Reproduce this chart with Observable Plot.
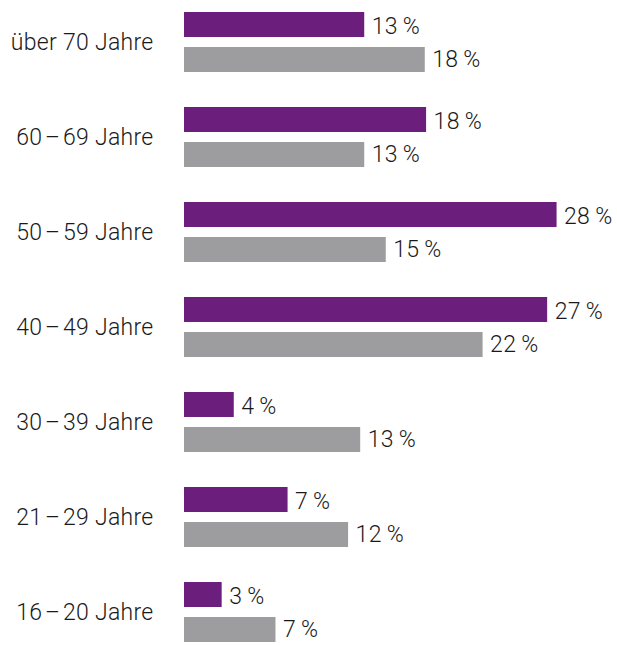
<!DOCTYPE html>
<html>
<head>
<meta charset="utf-8">
<script src="https://cdn.jsdelivr.net/npm/d3@7"></script>
<script src="https://cdn.jsdelivr.net/npm/@observablehq/plot@0.6"></script>
<style>
  html, body { margin: 0; padding: 0; background: #fff; }
  #chart svg text { letter-spacing: 0.3px; }
</style>
</head>
<body>
<div id="chart"></div>
<script>
const groups = ["über 70 Jahre", "60\u200a–\u200a69 Jahre", "50\u200a–\u200a59 Jahre", "40\u200a–\u200a49 Jahre", "30\u200a–\u200a39 Jahre", "21\u200a–\u200a29 Jahre", "16\u200a–\u200a20 Jahre"];
const purpleValues = [13.4, 18.0, 27.7, 27.0, 3.7, 7.7, 2.8];
const grayValues = [17.9, 13.4, 15.0, 22.2, 13.1, 12.2, 6.8];
const purpleLabels = [13, 18, 28, 27, 4, 7, 3];
const grayLabels = [18, 13, 15, 22, 13, 12, 7];

const purple = groups.map((g, i) => ({group: g, value: purpleValues[i], label: purpleLabels[i]}));
const gray = groups.map((g, i) => ({group: g, value: grayValues[i], label: grayLabels[i]}));

const fmt = d => d.label + "\u2009%";

const chart = Plot.plot({
  width: 617,
  height: 645,
  marginLeft: 184,
  marginRight: 0,
  marginTop: 0,
  marginBottom: 0,
  style: {fontFamily: "Roboto, 'Liberation Sans', Arial, sans-serif", fontSize: "23px", fontWeight: 300, color: "#1a1a1a", background: "#fff"},
  x: {domain: [0, 30], range: [184, 587.5], axis: null},
  y: {domain: groups, range: [9, 645.5], paddingInner: 0.369, paddingOuter: 0, label: null},
  marks: [
    Plot.barX(purple, {x: "value", y: "group", fill: "#6b1e7c", insetBottom: 35}),
    Plot.barX(gray, {x: "value", y: "group", fill: "#9d9d9f", insetTop: 35}),
    Plot.text(purple, {x: "value", y: "group", text: fmt, textAnchor: "start", dx: 7, dy: -16, fontSize: 23, fontWeight: 300, fill: "#1a1a1a"}),
    Plot.text(gray, {x: "value", y: "group", text: fmt, textAnchor: "start", dx: 7, dy: 17.5, fontSize: 23, fontWeight: 300, fill: "#1a1a1a"}),
    Plot.axisY({tickSize: 0, tickPadding: 31, fontSize: 23, fontWeight: 300, label: null, fill: "#1a1a1a"})
  ]
});
document.getElementById("chart").appendChild(chart);
</script>
</body>
</html>
